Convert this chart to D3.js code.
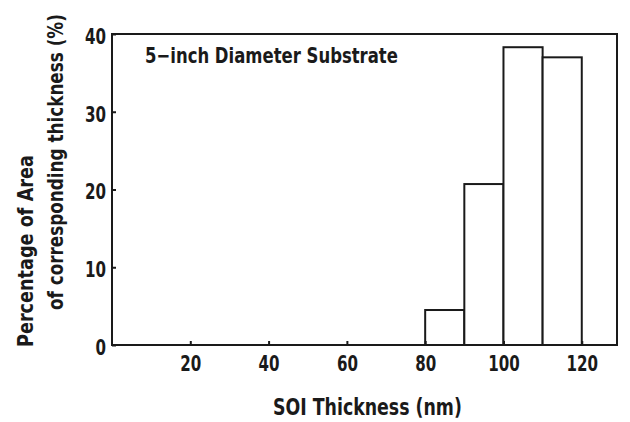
<!DOCTYPE html>
<html>
<head>
<meta charset="utf-8">
<script src="https://cdn.jsdelivr.net/npm/d3@7"></script>
<style>
  body { margin: 0; background: #fff; }
  svg text { font-family: "Liberation Sans Narrow", "DejaVu Sans Condensed", sans-serif; font-weight: bold; fill: #1a1a1a; }
</style>
</head>
<body>
<svg id="chart" width="630" height="422"></svg>
<script>
// histogram bins (nm) and percentage of area
var binStart = [80, 90, 100, 110],
    binEnd = [90, 100, 110, 120],
    percent = [4.5, 20.7, 38.3, 37.0]

var xTicks = [20, 40, 60, 80, 100, 120],
    yTicks = [0, 10, 20, 30, 40]

var title = '5\u2212inch Diameter Substrate',
    xTitle = 'SOI Thickness (nm)',
    yTitle = ['Percentage of Area', 'of corresponding thickness (%)']

const svg = d3.select('#chart')
const ink = '#1a1a1a'

const x = d3.scaleLinear().domain([0, 129]).range([112, 617])
const y = d3.scaleLinear().domain([0, 40]).range([345, 34])

// squeeze a text horizontally to a given length (keeps its height)
function fitText(g, str, len, size) {
    const t = g.append('text').attr('font-size', size).text(str)
    const w = t.node().getComputedTextLength()
    t.attr('transform', 'scale(' + (len / w) + ',1)')
    return t
}

// bars
const bins = binStart.map((b, i) => ({ x0: b, x1: binEnd[i], v: percent[i] }))
svg.selectAll('rect.bar')
    .data(bins)
    .enter()
    .append('rect')
    .attr('class', 'bar')
    .attr('x', d => x(d.x0))
    .attr('y', d => y(d.v))
    .attr('width', d => x(d.x1) - x(d.x0))
    .attr('height', d => y(0) - y(d.v))
    .attr('fill', '#fff')
    .attr('stroke', ink)
    .attr('stroke-width', 2)

// frame
svg.append('rect')
    .attr('x', x(0))
    .attr('y', y(40))
    .attr('width', x(129) - x(0))
    .attr('height', y(0) - y(40))
    .attr('fill', 'none')
    .attr('stroke', ink)
    .attr('stroke-width', 2)

// narrow digits like the original typesetting
const narrow = sel => sel
    .attr('font-size', 21)
    .attr('fill', ink)
    .attr('textLength', function() { return this.textContent.length * 10.5 })
    .attr('lengthAdjust', 'spacingAndGlyphs')

// x axis
const xAxis = svg.append('g')
    .attr('transform', 'translate(0,' + y(0) + ')')
    .call(d3.axisBottom(x).tickValues(xTicks).tickSize(-4).tickPadding(11).tickFormat(d3.format('d')))
xAxis.select('.domain').remove()
xAxis.selectAll('line').attr('stroke', ink).attr('stroke-width', 2)
xAxis.selectAll('text').call(narrow)

// y axis
const yAxis = svg.append('g')
    .attr('transform', 'translate(' + x(0) + ',0)')
    .call(d3.axisLeft(y).tickValues(yTicks).tickSize(-4).tickPadding(6).tickFormat(d3.format('d')))
yAxis.select('.domain').remove()
yAxis.selectAll('line').attr('stroke', ink).attr('stroke-width', 2)
yAxis.selectAll('text').call(narrow).attr('dy', '0.45em')

// in-plot title
fitText(svg.append('g').attr('transform', 'translate(145,63)'), title, 253, 22)

// x axis title
fitText(svg.append('g').attr('transform', 'translate(273,415)'), xTitle, 189, 23)

// y axis title, two rotated lines
const yPos = [{ cx: 33, bottom: 347, len: 192 }, { cx: 63, bottom: 310, len: 296 }]
yTitle.forEach((d, i) => {
    const g = svg.append('g')
        .attr('transform', 'translate(' + yPos[i].cx + ',' + yPos[i].bottom + ') rotate(-90)')
    fitText(g, d, yPos[i].len, 21)
})
</script>
</body>
</html>
